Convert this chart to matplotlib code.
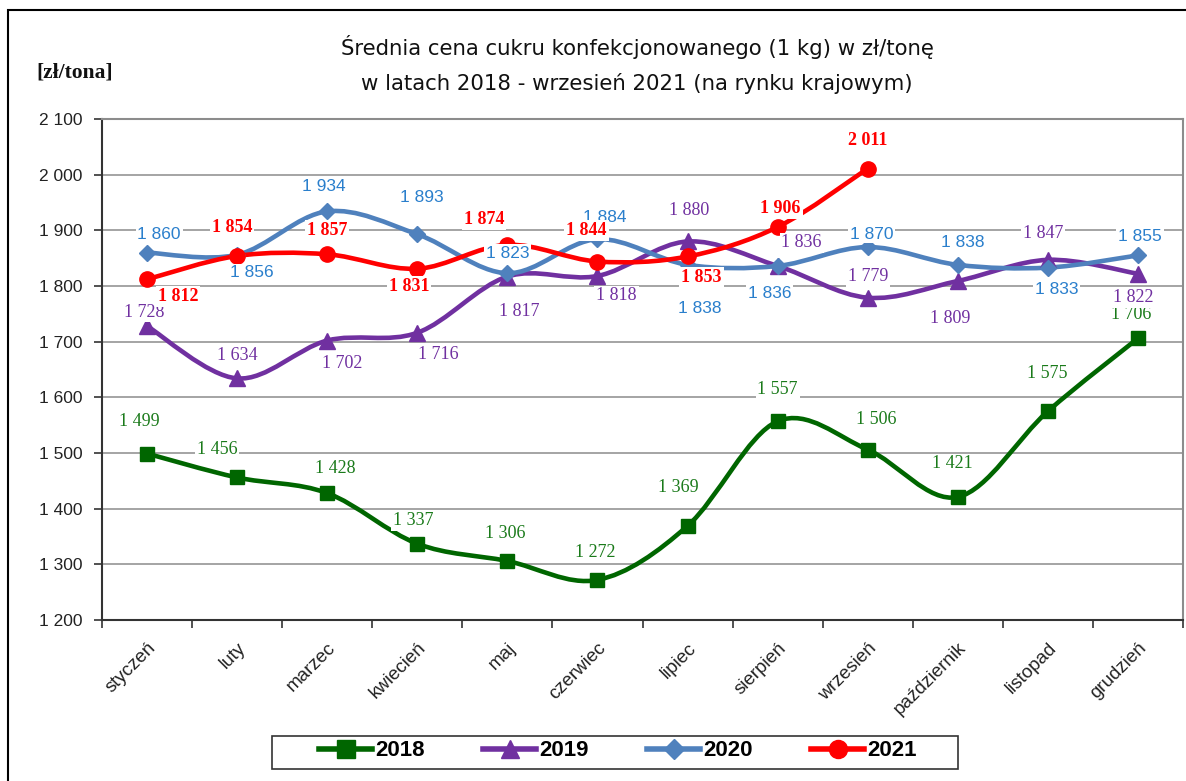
import numpy as np
import matplotlib
matplotlib.use("Agg")
import matplotlib.pyplot as plt
from matplotlib.path import Path
from matplotlib.patches import PathPatch, Rectangle
from matplotlib.lines import Line2D
from matplotlib.ticker import FuncFormatter, MultipleLocator

months = ["styczeń", "luty", "marzec", "kwiecień", "maj", "czerwiec", "lipiec",
          "sierpień", "wrzesień", "październik", "listopad", "grudzień"]

y2018 = [1499, 1456, 1428, 1337, 1306, 1272, 1369, 1557, 1506, 1421, 1575, 1706]
y2019 = [1728, 1634, 1702, 1716, 1817, 1818, 1880, 1836, 1779, 1809, 1847, 1822]
y2020 = [1860, 1856, 1934, 1893, 1823, 1884, 1838, 1836, 1870, 1838, 1833, 1855]
y2021 = [1812, 1854, 1857, 1831, 1874, 1844, 1853, 1906, 2011]

# label offsets in screen pixels (dx right, dy down)
off2018 = [(-8, -32), (-20, -28), (8, -25), (-4, -23), (-2, -27), (-2, -27),
           (-9, -38), (0, -32), (9, -30), (-5, -33), (-1, -38), (-7, -24)]
off2019 = [(-3, -14), (0, -23), (15, 23), (21, 22), (12, 35), (19, 20),
           (2, -31), (24, -23), (0, -21), (-8, 38), (-5, -26), (-5, 24)]
off2020 = [(12, -18), (15, 18), (-3, -25), (5, -37), (0, -20), (7, -22),
           (12, 44), (-8, 28), (4, -13), (5, -22), (9, 22), (2, -19)]
off2021 = [(31, 17), (-5, -28), (0, -24), (-8, 18), (-23, -25), (-11, -31),
           (14, 21), (3, -18), (0, -28)]


def smooth_path(xs, ys):
    pts = np.column_stack([xs, ys]).astype(float)
    verts = [pts[0]]
    codes = [Path.MOVETO]
    n = len(pts)
    for i in range(n - 1):
        p0 = pts[i - 1] if i > 0 else pts[i]
        p1 = pts[i]
        p2 = pts[i + 1]
        p3 = pts[i + 2] if i + 2 < n else p2
        verts += [p1 + (p2 - p0) / 6, p2 - (p3 - p1) / 6, p2]
        codes += [Path.CURVE4] * 3
    return Path(verts, codes)


fig = plt.figure(figsize=(11.86, 7.81), dpi=100)
ax = fig.add_axes([102 / 1186, 1 - 620 / 781, (1183 - 102) / 1186, (620 - 119) / 781])

series = [
    ("2018", y2018, off2018, "#006600", "s", 10.5, "#1a7a1a", "Liberation Serif", "normal", 13),
    ("2019", y2019, off2019, "#7030A0", "^", 11, "#7030A0", "Liberation Serif", "normal", 13),
    ("2020", y2020, off2020, "#4F81BD", "D", 8.5, "#2A7FCC", "Liberation Sans", "normal", 12.5),
    ("2021", y2021, off2021, "#FF0000", "o", 11, "#FF0000", "Liberation Serif", "bold", 13),
]

handles = []
for name, vals, offs, col, mk, ms, lcol, lfont, lweight, lsize in series:
    xs = np.arange(len(vals))
    ax.add_patch(PathPatch(smooth_path(xs, vals), fill=False, edgecolor=col,
                           lw=3.3, capstyle="round", joinstyle="round", zorder=3))
    ax.plot(xs, vals, linestyle="none", marker=mk, ms=ms, color=col, zorder=4)
    for x, v, (dx, dy) in zip(xs, vals, offs):
        txt = f"{v:,}".replace(",", " ")
        ax.annotate(txt, (x, v), xytext=(dx, -dy), textcoords="offset pixels",
                    ha="center", va="center", fontsize=lsize, color=lcol,
                    family=lfont, fontweight=lweight, zorder=6,
                    bbox=dict(boxstyle="square,pad=0.1", fc="white", ec="none"))
    handles.append(Line2D([0], [0], color=col, lw=4, marker=mk, ms=ms + 2))

ax.set_xlim(-0.5, 11.5)
ax.set_ylim(1200, 2100)
ax.yaxis.set_major_locator(MultipleLocator(100))
ax.yaxis.set_major_formatter(FuncFormatter(lambda v, p: f"{int(v):,}".replace(",", " ")))
ax.set_xticks(range(12))
ax.set_xticklabels(months, rotation=45, ha="right", rotation_mode="anchor",
                   fontsize=13.5, family="Liberation Sans", color="#222222")
ax.set_xticks(np.arange(-0.5, 12, 1), minor=True)
ax.tick_params(axis="x", which="major", length=0, pad=14)
ax.tick_params(axis="x", which="minor", length=6, width=1.2, color="#333333", direction="out")
ax.tick_params(axis="y", length=6, width=1.2, color="#333333", labelsize=12.5,
               labelcolor="#222222", pad=8)
for lab in ax.get_yticklabels():
    lab.set_family("Liberation Sans")

ax.grid(axis="y", color="#8c8c8c", lw=1.1, zorder=1)
ax.set_axisbelow(True)
ax.spines["left"].set_color("#333333")
ax.spines["left"].set_linewidth(1.5)
ax.spines["bottom"].set_color("#333333")
ax.spines["bottom"].set_linewidth(1.5)
ax.spines["top"].set_color("#8c8c8c")
ax.spines["right"].set_color("#8c8c8c")
ax.spines["top"].set_linewidth(1.5)
ax.spines["right"].set_linewidth(1.5)

fig.text(637 / 1186, 1 - 47 / 781, "Średnia cena cukru konfekcjonowanego (1 kg) w zł/tonę",
         ha="center", va="center", fontsize=15.3, family="DejaVu Sans", color="#111111")
fig.text(637 / 1186, 1 - 83 / 781, "w latach 2018 - wrzesień 2021 (na rynku krajowym)",
         ha="center", va="center", fontsize=15.3, family="DejaVu Sans", color="#111111")
fig.text(75 / 1186, 1 - 73 / 781, "[zł/tona]", ha="center", va="center", fontsize=15.5,
         family="Liberation Serif", fontweight="bold", color="#111111")

leg = fig.legend(handles, ["2018", "2019", "2020", "2021"], loc="center",
                 bbox_to_anchor=(618 / 1186, 1 - 751 / 781), ncol=4, frameon=False,
                 handlelength=2.4, columnspacing=2.6, handletextpad=0.15,
                 borderpad=0, borderaxespad=0,
                 prop=dict(family="Liberation Sans", weight="bold", size=16))

# legend frame
fig.patches.append(Rectangle((272 / 1186, 1 - 769 / 781), (958 - 272) / 1186, 33 / 781,
                             transform=fig.transFigure, fill=False, ec="#333333",
                             lw=1.2, zorder=0))
# outer chart border
fig.patches.append(Rectangle((8 / 1186, -0.1), 1.2, 1 - 10 / 781 + 0.1,
                             transform=fig.transFigure, fill=False, ec="black",
                             lw=1.5, zorder=0))

fig.savefig("out.png", dpi=100)
